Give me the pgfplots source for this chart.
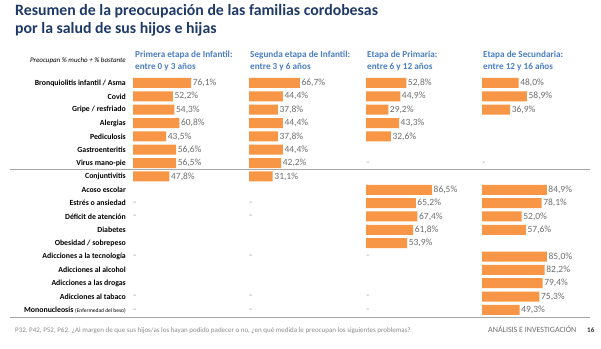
\documentclass[border=0pt]{standalone}
\usepackage{pgfplots}
\pgfplotsset{compat=1.18}
\usepackage{fontspec}
\setmainfont{Carlito}
\definecolor{barorange}{HTML}{F79646}
\definecolor{hdrblue}{HTML}{4A7EC5}
\definecolor{navy}{HTML}{1F3A68}
\definecolor{valgray}{HTML}{6E6E6E}
\definecolor{linegray}{HTML}{A6A6A6}
\definecolor{footgray}{HTML}{8C8C8C}
\pgfplotsset{
 colaxis/.style={
  scale only axis, width=76.3pt, height=240.3pt,
  xmin=0, xmax=100, ymin=-0.5, ymax=17.5, y dir=reverse,
  anchor=north west, clip=false,
  axis line style={draw=none}, major tick length=0pt,
  xtick=\empty, ytick=\empty,
 },
 valbar/.style={xbar, bar width=10pt, fill=barorange, draw=none,
  point meta=x,
  nodes near coords={\pgfmathprintnumber[fixed, fixed zerofill, precision=1, use comma, assume math mode=true]{\pgfplotspointmeta}\%},
  nodes near coords style={anchor=west, font=\fontsize{9.5}{10}\selectfont, text=valgray, inner sep=1.5pt}},
 dashes/.style={only marks, mark=*, mark size=0pt, mark options={draw=none,fill=none},
  point meta=x, nodes near coords={\textendash},
  nodes near coords style={anchor=west, inner sep=0pt, font=\fontsize{7}{7}\selectfont, text=valgray}},
}
\begin{document}
\begin{tikzpicture}[x=1pt,y=-1pt]
\fill[white] (0,0) rectangle (601,348);
% titles
\node[anchor=base west, font=\bfseries\fontsize{15.8}{17}\selectfont, text=navy, inner sep=0] at (15,16) {Resumen de la preocupación de las familias cordobesas};
\node[anchor=base west, font=\bfseries\fontsize{15.8}{17}\selectfont, text=navy, inner sep=0] at (15,33) {por la salud de sus hijos e hijas};
\node[anchor=base east, font=\itshape\fontsize{7}{7}\selectfont, inner sep=0] at (126,62) {Preocupan \% mucho + \% bastante};
% column headers
\foreach \xx/\la/\lb in {135/Primera etapa de Infantil:/entre 0 y 3 años, 250/Segunda etapa de Infantil:/entre 3 y 6 años, 367/Etapa de Primaria:/entre 6 y 12 años, 483/Etapa de Secundaria:/entre 12 y 16 años}{
  \node[anchor=base west, font=\bfseries\fontsize{9.2}{10}\selectfont, text=hdrblue, inner sep=0] at (\xx,57.5) {\la};
  \node[anchor=base west, font=\bfseries\fontsize{9.2}{10}\selectfont, text=hdrblue, inner sep=0] at (\xx,69) {\lb};
}
% lines
\draw[linegray, line width=0.8pt] (10,169.5) -- (590,169.5);
\draw[linegray, line width=0.8pt] (10,317.5) -- (590,317.5);
% footer
\node[anchor=base west, font=\fontsize{7}{7}\selectfont, text=footgray, inner sep=0] at (15,332) {P32, P42, P52, P62. ¿Al margen de que sus hijos/as los hayan podido padecer o no, ¿en qué medida le preocupan los siguientes problemas?};
\node[anchor=base west, font=\fontsize{8}{8}\selectfont, text=valgray, inner sep=0] at (488,332) {ANÁLISIS E INVESTIGACIÓN};
\node[anchor=base west, font=\bfseries\fontsize{7}{7}\selectfont, text=black!80, inner sep=0] at (587,332) {16};
% column 1
\begin{axis}[colaxis, at={(133pt,-76.3pt)},
  ytick={0,...,17},
  yticklabels={Bronquiolitis infantil / Asma, Covid, Gripe / resfriado, Alergias, Pediculosis, Gastroenteritis, Virus mano-pie, Conjuntivitis, Acoso escolar, Estrés o ansiedad, Déficit de atención, Diabetes, Obesidad / sobrepeso, Adicciones a la tecnología, Adicciones al alcohol, Adicciones a las drogas, Adicciones al tabaco, Mononucleosis {\mdseries\fontsize{5.5}{5.5}\selectfont (Enfermedad del beso)}},
  yticklabel style={font=\bfseries\fontsize{7.8}{8}\selectfont, anchor=east, inner sep=0pt, xshift=-7pt}]
\addplot[valbar] coordinates {(76.1,0) (52.2,1) (54.3,2) (60.8,3) (43.5,4) (56.6,5) (56.5,6) (47.8,7)};
\addplot[dashes] coordinates {(0,9) (0,10) (0,13) (0,16) (0,17)};
\end{axis}
% column 2
\begin{axis}[colaxis, at={(249pt,-76.3pt)}]
\addplot[valbar] coordinates {(66.7,0) (44.4,1) (37.8,2) (44.4,3) (37.8,4) (44.4,5) (42.2,6) (31.1,7)};
\addplot[dashes] coordinates {(0,9) (0,10) (0,13) (0,16) (0,17)};
\end{axis}
% column 3
\begin{axis}[colaxis, at={(366pt,-76.3pt)}]
\addplot[valbar] coordinates {(52.8,0) (44.9,1) (29.2,2) (43.3,3) (32.6,4) (86.5,8) (65.2,9) (67.4,10) (61.8,11) (53.9,12)};
\addplot[dashes] coordinates {(0,6) (0,13) (0,16) (0,17)};
\end{axis}
% column 4
\begin{axis}[colaxis, at={(482pt,-76.3pt)}]
\addplot[valbar] coordinates {(48.0,0) (58.9,1) (36.9,2) (84.9,8) (78.1,9) (52.0,10) (57.6,11) (85.0,13) (82.2,14) (79.4,15) (75.3,16) (49.3,17)};
\addplot[dashes] coordinates {(0,6)};
\end{axis}
\end{tikzpicture}
\end{document}
